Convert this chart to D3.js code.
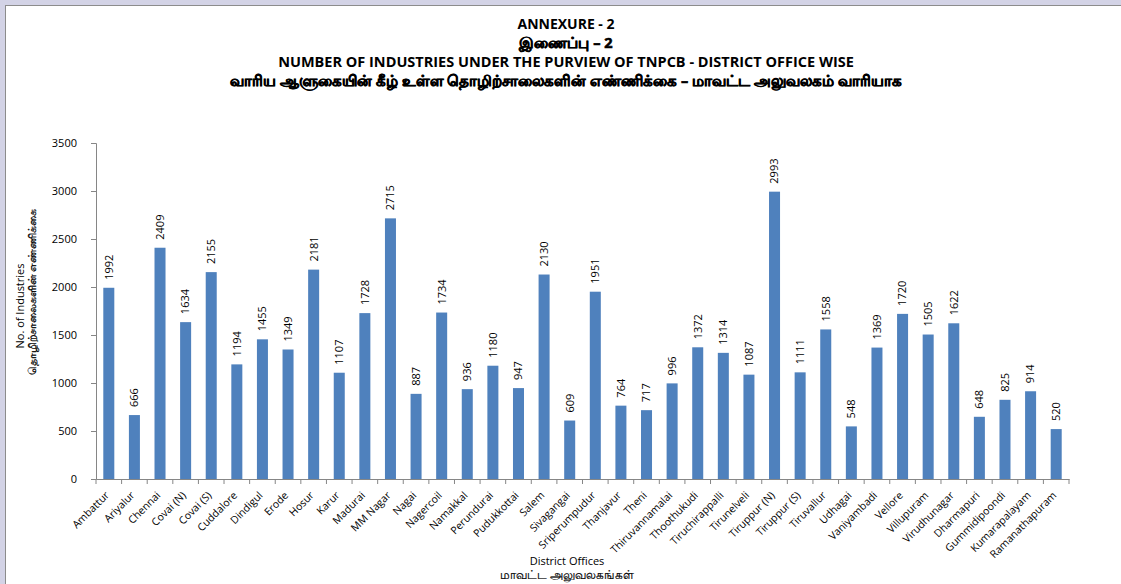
<!DOCTYPE html>
<html>
<head>
<meta charset="utf-8">
<script src="https://cdn.jsdelivr.net/npm/d3@7"></script>
<style>
  body { margin: 0; background: #fff; }
  svg { display: block; }
</style>
</head>
<body>
<div id="chart"></div>
<script>
const districts = ["Ambattur", "Ariyalur", "Chennai", "Covai (N)", "Covai (S)", "Cuddalore", "Dindigul", "Erode", "Hosur", "Karur",
  "Madurai", "MM Nagar", "Nagai", "Nagercoil", "Namakkal", "Perundurai", "Pudukkottai", "Salem", "Sivagangai", "Sriperumpudur",
  "Thanjavur", "Theni", "Thiruvannamalai", "Thoothukudi", "Tiruchirappalli", "Tirunelveli", "Tiruppur (N)", "Tiruppur (S)", "Tiruvallur", "Udhagai",
  "Vaniyambadi", "Vellore", "Villupuram", "Virudhunagar", "Dharmapuri", "Gummidipoondi", "Kumarapalayam", "Ramanathapuram"];
const industries = [1992, 666, 2409, 1634, 2155, 1194, 1455, 1349, 2181, 1107,
  1728, 2715, 887, 1734, 936, 1180, 947, 2130, 609, 1951,
  764, 717, 996, 1372, 1314, 1087, 2993, 1111, 1558, 548,
  1369, 1720, 1505, 1622, 648, 825, 914, 520];
const yTicks = [0, 500, 1000, 1500, 2000, 2500, 3000, 3500];
const titleLines = ["ANNEXURE - 2", "இணைப்பு – 2",
  "NUMBER OF INDUSTRIES UNDER THE PURVIEW OF TNPCB - DISTRICT OFFICE WISE",
  "வாரிய ஆளுகையின் கீழ் உள்ள தொழிற்சாலைகளின் எண்ணிக்கை – மாவட்ட அலுவலகம் வாரியாக"];
const yTitle = ["No. of Industries", "தொழிற்சாலைகளின் எண்ணிக்கை"];
const xTitle = ["District Offices", "மாவட்ட அலுவலகங்கள்"];

const W = 1121, H = 584;
const margin = {top: 143, right: 52, bottom: 105, left: 96};
const font = "'Open Sans', 'Noto Sans', sans-serif";
const axisColor = "#868686";

const svg = d3.select("#chart").append("svg")
    .attr("width", W).attr("height", H)
    .style("font-family", font);

// window frame strips
svg.append("rect").attr("x", 0).attr("y", 0).attr("width", W).attr("height", 5).attr("fill", "#d3d3e6");
svg.append("rect").attr("x", 0).attr("y", 0).attr("width", 5).attr("height", H).attr("fill", "#d3d3e6");
svg.append("line").attr("x1", 5).attr("x2", W).attr("y1", 5.5).attr("y2", 5.5).attr("stroke", "#8c8c8c");
svg.append("line").attr("x1", 5.5).attr("x2", 5.5).attr("y1", 5).attr("y2", H).attr("stroke", "#8c8c8c");

const x = d3.scaleBand()
    .domain(districts)
    .range([margin.left, W - margin.right])
    .paddingInner(0.57).paddingOuter(0.285);

const y = d3.scaleLinear()
    .domain([0, 3500])
    .range([H - margin.bottom, margin.top]);

// titles (Tamil lines get a thin stroke to look bold)
const titleY = [29, 48, 67, 86];
const titleSize = [14, 14.5, 14.5, 14.5];
svg.append("g").selectAll("text")
  .data(titleLines)
  .join("text")
    .attr("x", 566)
    .attr("y", (d, i) => titleY[i])
    .attr("text-anchor", "middle")
    .attr("font-weight", "bold")
    .attr("font-size", (d, i) => titleSize[i])
    .attr("fill", "#000")
    .attr("stroke", (d, i) => i % 2 ? "#000" : "none")
    .attr("stroke-width", 0.6)
    .text(d => d);

// y axis
const yAxis = svg.append("g")
    .attr("transform", `translate(${margin.left},0)`)
    .call(d3.axisLeft(y).tickValues(yTicks).tickSize(5).tickPadding(14).tickFormat(d3.format("d")));
yAxis.selectAll(".domain, line").attr("stroke", axisColor);
yAxis.selectAll("text").attr("font-size", 11).attr("font-family", font).attr("fill", "#000");

// x axis with ticks on band boundaries
const xAxisY = H - margin.bottom;
const xAxis = svg.append("g")
    .attr("transform", `translate(0,${xAxisY})`)
    .call(d3.axisBottom(x).tickSize(0).tickPadding(0));
xAxis.select(".domain").attr("stroke", axisColor);
xAxis.selectAll("text")
    .attr("font-size", 10.5)
    .attr("font-family", font)
    .attr("fill", "#000")
    .attr("text-anchor", "end")
    .attr("y", 0)
    .attr("dy", 0)
    .attr("transform", "translate(1,17) rotate(-45)");
const step = x.step();
const bounds = d3.range(districts.length + 1).map(i => margin.left + i * step);
svg.append("g").selectAll("line")
  .data(bounds)
  .join("line")
    .attr("x1", d => d).attr("x2", d => d)
    .attr("y1", xAxisY).attr("y2", xAxisY + 5)
    .attr("stroke", axisColor);

// bars
svg.append("g").selectAll("rect")
  .data(industries)
  .join("rect")
    .attr("x", (d, i) => x(districts[i]))
    .attr("y", d => y(d))
    .attr("width", x.bandwidth())
    .attr("height", d => y(0) - y(d))
    .attr("fill", "#4f81bd");

// value labels
svg.append("g").selectAll("text")
  .data(industries)
  .join("text")
    .attr("transform", (d, i) => `translate(${x(districts[i]) + x.bandwidth() / 2},${y(d) - 8}) rotate(-90)`)
    .attr("dy", "0.35em")
    .attr("font-size", 11)
    .attr("fill", "#000")
    .text(d => d);

// axis titles
svg.append("g").selectAll("text")
  .data(yTitle)
  .join("text")
    .attr("transform", (d, i) => `translate(${24 + i * 12},${i ? 292 : 306}) rotate(-90)`)
    .attr("text-anchor", "middle")
    .attr("font-size", 11)
    .attr("fill", "#000")
    .attr("stroke", (d, i) => i ? "#000" : "none")
    .attr("stroke-width", 0.3)
    .text(d => d);

svg.append("g").selectAll("text")
  .data(xTitle)
  .join("text")
    .attr("x", 567)
    .attr("y", (d, i) => 565 + i * 14)
    .attr("text-anchor", "middle")
    .attr("font-size", (d, i) => i ? 12 : 11)
    .attr("fill", "#000")
    .attr("stroke", (d, i) => i ? "#000" : "none")
    .attr("stroke-width", 0.2)
    .text(d => d);
</script>
</body>
</html>
